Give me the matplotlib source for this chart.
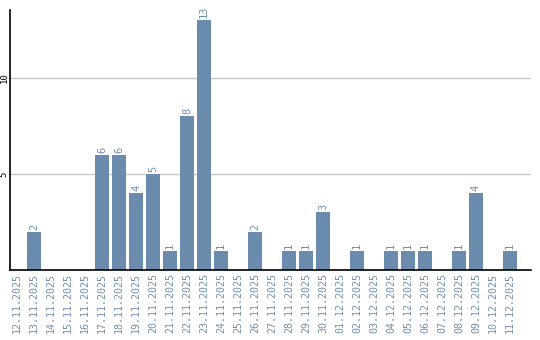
import matplotlib
matplotlib.use('Agg')
import matplotlib.pyplot as plt

dates = ['12.11.2025', '13.11.2025', '14.11.2025', '15.11.2025', '16.11.2025',
         '17.11.2025', '18.11.2025', '19.11.2025', '20.11.2025', '21.11.2025',
         '22.11.2025', '23.11.2025', '24.11.2025', '25.11.2025', '26.11.2025',
         '27.11.2025', '28.11.2025', '29.11.2025', '30.11.2025', '01.12.2025',
         '02.12.2025', '03.12.2025', '04.12.2025', '05.12.2025', '06.12.2025',
         '07.12.2025', '08.12.2025', '09.12.2025', '10.12.2025', '11.12.2025']
counts = [0, 2, 0, 0, 0, 6, 6, 4, 5, 1, 8, 13, 1, 0, 2,
          0, 1, 1, 3, 0, 1, 0, 1, 1, 1, 0, 1, 4, 0, 1]

bar_color = '#6a8bab'

fig = plt.figure(figsize=(5.4, 3.4), dpi=100)
ax = fig.add_axes([10 / 540, 70 / 340, 521 / 540, 260 / 340])

x = list(range(len(dates)))
ax.bar(x, counts, width=0.82, color=bar_color, zorder=2)

for i, v in zip(x, counts):
    if v > 0:
        ax.text(i, v + 0.1, str(v), rotation=90, ha='center', va='bottom',
                fontsize=7.5, color='#7090b0', family='DejaVu Sans Mono')

ax.set_xlim(-0.41, 30.24)
ax.set_ylim(0, 13.54)
ax.set_xticks(x)
ax.set_xticklabels(dates, rotation=90, fontsize=7.2, color='#7090b0',
                   family='DejaVu Sans Mono')
ax.set_yticks([5, 10])
ax.set_yticklabels(['5', '10'], rotation=90, fontsize=6.5, va='center',
                   family='DejaVu Sans Mono')
ax.tick_params(axis='both', length=0, pad=2)
ax.tick_params(axis='y', pad=1)

ax.grid(axis='y', color='#c8c8c8', linewidth=1, zorder=0)
ax.spines['top'].set_visible(False)
ax.spines['right'].set_visible(False)
ax.spines['left'].set_linewidth(1.2)
ax.spines['bottom'].set_linewidth(1.2)

fig.savefig('out.png', dpi=100)
